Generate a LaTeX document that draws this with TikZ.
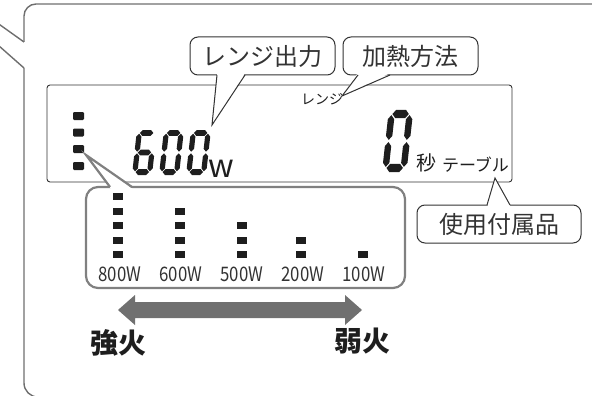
\documentclass[tikz,border=0pt]{standalone}
\usepackage{graphicx}
\usepackage{fontspec}
\setmainfont{Noto Sans CJK JP}
\newcommand\fsz[1]{\fontsize{#1}{#1}\selectfont}
\newcommand\narrowtxt[1]{\scalebox{0.84}[1]{#1}}
\definecolor{outerc}{HTML}{6E6E6E}
\definecolor{lblc}{HTML}{333333}
\definecolor{lvlc}{HTML}{808080}
\definecolor{arrc}{HTML}{707070}
\definecolor{inkc}{HTML}{1E1E1E}
% seven-segment pieces (local unit digit 10 x 20, y up)
\newcommand\sgA{\fill (1.65,18.7)--(2.95,20)--(7.05,20)--(8.35,18.7)--(7.05,17.4)--(2.95,17.4)--cycle;}
\newcommand\sgG{\fill (1.65,10)--(2.95,11.3)--(7.05,11.3)--(8.35,10)--(7.05,8.7)--(2.95,8.7)--cycle;}
\newcommand\sgD{\fill (1.65,1.3)--(2.95,2.6)--(7.05,2.6)--(8.35,1.3)--(7.05,0)--(2.95,0)--cycle;}
\newcommand\sgF{\fill (1.3,10.35)--(2.6,11.65)--(2.6,17.05)--(1.3,18.35)--(0,17.05)--(0,11.65)--cycle;}
\newcommand\sgB{\fill (8.7,10.35)--(10,11.65)--(10,17.05)--(8.7,18.35)--(7.4,17.05)--(7.4,11.65)--cycle;}
\newcommand\sgE{\fill (1.3,1.65)--(2.6,2.95)--(2.6,8.35)--(1.3,9.65)--(0,8.35)--(0,2.95)--cycle;}
\newcommand\sgC{\fill (8.7,1.65)--(10,2.95)--(10,8.35)--(8.7,9.65)--(7.4,8.35)--(7.4,2.95)--cycle;}
\newcommand\segdigit[5]{%
  \begin{scope}[shift={(#1,#2)},x=#3pt,y=#4pt,xslant=0.11,fill=inkc]
    \foreach \s in {#5} {\csname sg\s\endcsname}
  \end{scope}}
\begin{document}
\begin{tikzpicture}[x=1pt,y=-1pt,
  outer/.style={draw=outerc,line width=1.4pt},
  lcdbox/.style={draw=lblc,line width=0.9pt,rounded corners=3pt},
  lbl/.style={draw=lblc,line width=1pt,fill=white,rounded corners=8pt,inner sep=0pt,text=lblc,font=\fsz{24}},
  lblline/.style={draw=lblc,line width=1pt,line join=miter},
  lvlbox/.style={draw=lvlc,line width=2.2pt,fill=white,rounded corners=12pt,inner sep=0pt},
  lvlline/.style={draw=lvlc,line width=2.2pt,line join=miter},
  txt/.style={inner sep=0pt,text=inkc},
  dot/.style={fill=inkc,rounded corners=1.2pt},
  wlab/.style={inner sep=0pt,text=lblc,font=\fsz{20}},
]
\useasboundingbox (0,0) rectangle (592,396);
\clip (0,0) rectangle (592,396);
% outer callout
\draw[outer] (-5,21.3) -- (24,42);
\draw[outer,rounded corners=12pt] (24,42) -- (24,4) -- (620,4);
\draw[outer] (-5,42.4) -- (24,68);
\draw[outer,rounded corners=14pt] (24,68) -- (24,397) -- (620,397);
% LCD panel
\draw[lcdbox] (47,85) rectangle (512,182);
% level indicator in LCD
\foreach \yy in {116,132.5,149,166}
  \fill[dot] (73,\yy-4) rectangle (84,\yy+4);
% 600 W
\segdigit{132}{175}{2.0}{2.25}{A,F,G,E,D,C}
\segdigit{159}{175}{2.0}{2.25}{A,B,C,D,E,F}
\segdigit{186}{175}{2.0}{2.25}{A,B,C,D,E,F}
\node[txt,anchor=base west,font=\fsz{32}] (w) at (208.5,177) {w};
% big 0
\segdigit{382}{172}{2.45}{3.1}{A,B,C,D,E,F}
\node[txt,font=\fsz{20}] (byo) at (426,163) {秒};
\node[txt,font=\fsz{17}] (table) at (475.5,165) {テーブル};
\node[txt,font=\fsz{14}] (lenji) at (322,99) {レンジ};
% callout: レンジ出力
\node[lbl,minimum width=145pt,minimum height=38pt] (c1) at (262.5,56) {レンジ出力};
\coordinate (t1) at (212,125);
\fill[white] (t1) -- (217.2,73.3) -- (244.9,73.3) -- cycle;
\draw[lblline] (217,75) -- (t1) -- (245,75);
% callout: 加熱方法
\node[lbl,minimum width=135pt,minimum height=38pt] (c2) at (410.5,56) {加熱方法};
\coordinate (t2) at (342,96);
\fill[white] (t2) -- (357.6,73.3) -- (389.6,73.3) -- cycle;
\draw[lblline] (358,75) -- (t2) -- (390,75);
% callout: 使用付属品
\node[lbl,minimum width=164pt,minimum height=38pt] (c3) at (499,224) {使用付属品};
\coordinate (t3) at (495,178);
\fill[white] (t3) -- (487.4,206.7) -- (510.6,206.7) -- cycle;
\draw[lblline] (487,205) -- (t3) -- (510,205);
% level callout
\node[lvlbox,minimum width=319pt,minimum height=101pt] (lv) at (245.5,237.5) {};
\coordinate (t4) at (86,155);
\fill[white] (t4) -- (111.5,189.5) -- (133.5,189.5) -- cycle;
\draw[lvlline] (110,187) -- (t4) -- (132,187);
% level bars
\foreach \xx/\n in {118/1,180/2,242/3,301/4,363/5}{
  \foreach \r in {\n,...,5}{
    \pgfmathsetmacro\yy{196.5+(\r-1)*14.6}
    \fill[fill=inkc] (\xx-5,\yy-3.5) rectangle (\xx+5,\yy+3.5);
  }
}
\node[wlab] (w800) at (120,274.5) {\narrowtxt{800W}};
\node[wlab] (w600) at (181,274.5) {\narrowtxt{600W}};
\node[wlab] (w500) at (242,274.5) {\narrowtxt{500W}};
\node[wlab] (w200) at (303,274.5) {\narrowtxt{200W}};
\node[wlab] (w100) at (364,274.5) {\narrowtxt{100W}};
% strength arrow
\fill[arrc] (118,310) -- (135,295) -- (135,302) -- (345,302) -- (345,295) -- (362,310)
  -- (345,325) -- (345,318) -- (135,318) -- (135,325) -- cycle;
\node[txt,font=\fsz{28}\bfseries] (strong) at (118,343) {強火};
\node[txt,font=\fsz{28}\bfseries] (weak) at (362,341) {弱火};
\end{tikzpicture}
\end{document}
